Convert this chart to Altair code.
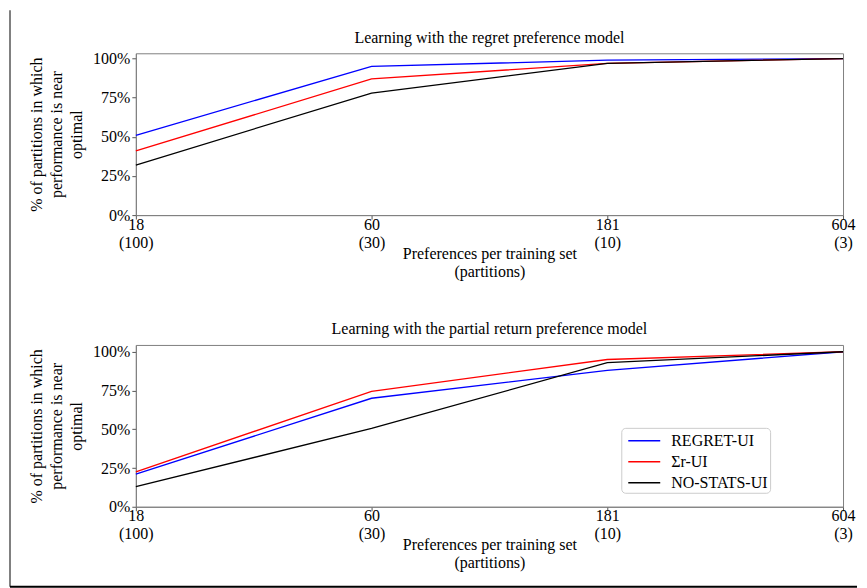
import altair as alt
import pandas as pd

prefs = ["18", "60", "181", "604"]
partitions = ["(100)", "(30)", "(10)", "(3)"]
series = ["REGRET-UI", "Σr-UI", "NO-STATS-UI"]
colors = ["#0000ff", "#ff0000", "#000000"]

# Learning with the regret preference model
regret_regretui = [0.51, 0.95, 0.99, 1.0]
regret_sigmaui = [0.41, 0.87, 0.97, 1.0]
regret_nostats = [0.32, 0.78, 0.97, 1.0]

# Learning with the partial return preference model
partial_regretui = [0.21, 0.70, 0.88, 1.0]
partial_sigmaui = [0.225, 0.745, 0.95, 1.0]
partial_nostats = [0.13, 0.505, 0.93, 1.0]

y_ticks = [0, 0.25, 0.5, 0.75, 1.0]
xcats = [f"{p}|{q}" for p, q in zip(prefs, partitions)]

FONT = "Liberation Serif"


def make_df(vals_list):
    rows = []
    for s, vals in zip(series, vals_list):
        for c, v in zip(xcats, vals):
            rows.append({"x": c, "series": s, "value": v})
    return pd.DataFrame(rows)


def panel(df, title, ymax, show_legend, extra=None, title_offset=7):
    x = alt.X(
        "x:O", sort=xcats,
        scale=alt.Scale(type="point", padding=0),
        axis=alt.Axis(
            title=["Preferences per training set", "(partitions)"],
            labelAngle=0, labelExpr="split(datum.value, '|')",
            labelLineHeight=18, labelPadding=-3, tickSize=4,
            titlePadding=-5, titleLineHeight=18,
        ),
    )
    y = alt.Y(
        "value:Q",
        scale=alt.Scale(domain=[0, ymax], nice=False, zero=True),
        axis=alt.Axis(
            values=y_ticks, format=".0%",
            title=["% of partitions in which", "performance is near", "optimal"],
            titleLineHeight=20, titlePadding=8, tickSize=4, labelPadding=2,
        ),
    )
    if show_legend:
        leg = alt.Legend(
            title=None,
            orient="none", legendX=486, legendY=83,
            symbolType="M-1.6,0H1.6", symbolSize=400, symbolStrokeWidth=1.5,
            symbolOffset=10, labelOffset=16, rowPadding=2, padding=2,
            fillColor="white", strokeColor="#cccccc", cornerRadius=4,
            labelFont=FONT, labelFontSize=16, labelColor="black",
        )
    else:
        leg = None
    color = alt.Color("series:N", scale=alt.Scale(domain=series, range=colors), legend=leg)
    lines = alt.Chart(df).mark_line(strokeWidth=1.3).encode(x=x, y=y, color=color)
    layers = [lines]
    if extra is not None:
        layers += extra
    return alt.layer(*layers).properties(
        width=708, height=162,
        title=alt.TitleParams(title, fontSize=16, font=FONT, fontWeight="normal",
                              offset=title_offset),
    ).resolve_legend(color="independent")


# outer figure frame (left and bottom edges of the figure image)
frame_left = alt.Chart(pd.DataFrame({"k": [0]})).mark_rule(color="#808080", strokeWidth=2).encode(
    x=alt.value(-126), y=alt.value(-43), y2=alt.value(534)
)
frame_bottom = alt.Chart(pd.DataFrame({"k": [0]})).mark_rule(color="black", strokeWidth=2).encode(
    x=alt.value(-126), x2=alt.value(722), y=alt.value(534)
)

top = panel(make_df([regret_regretui, regret_sigmaui, regret_nostats]),
            "Learning with the regret preference model", 1.034, False,
            extra=[frame_left, frame_bottom], title_offset=-37)
bottom = panel(make_df([partial_regretui, partial_sigmaui, partial_nostats]),
               "Learning with the partial return preference model", 1.044, True)

chart = alt.vconcat(top, bottom, spacing=130, bounds="flush").resolve_legend(
    color="independent"
).properties(
    padding={"left": 0, "top": 0, "right": 0, "bottom": 0}
).configure_view(
    stroke="#808080", strokeWidth=1
).configure_axis(
    labelFont=FONT, titleFont=FONT, labelFontSize=16, titleFontSize=16,
    labelColor="black", titleColor="black", titleFontWeight="normal",
    domainColor="#808080", tickColor="#555555", grid=False,
).configure_title(
    font=FONT, color="black"
)

chart.save("out.html", embed_options={"renderer": "svg", "actions": False})
